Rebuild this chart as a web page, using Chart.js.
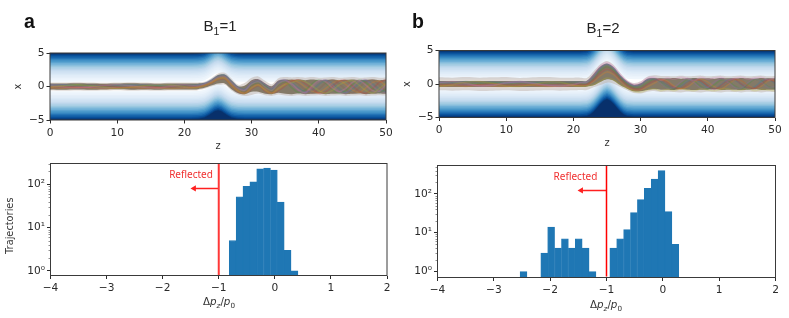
<!DOCTYPE html>
<html><head><meta charset="utf-8">
<script src="https://cdn.jsdelivr.net/npm/chart.js@4"></script>
<style>
html,body{margin:0;padding:0;background:#fff;width:789px;height:318px;overflow:hidden}
canvas{position:absolute;left:0;top:0;filter:blur(0.5px)}
.t{position:absolute;white-space:nowrap;color:#222;transform:translateX(-50%)}
.h{font-family:"Liberation Sans",sans-serif;font-size:15px}
.p{font-family:"Liberation Sans",sans-serif;font-weight:bold;font-size:19.5px;color:#111;transform:none}
.l{font-family:"DejaVu Sans",sans-serif;font-size:10.3px;color:#333}
sub{font-size:70%;line-height:0}
</style></head><body>
<div style="position:absolute;left:0;top:0;width:789px;height:318px">
<canvas id="c1" width="789" height="318"></canvas>
<canvas id="c2" width="789" height="318"></canvas>
<canvas id="c3" width="789" height="318"></canvas>
<canvas id="c4" width="789" height="318"></canvas>
</div>
<div class="t p" style="left:24px;top:10px">a</div>
<div class="t p" style="left:412px;top:10px">b</div>
<div class="t h" style="left:220px;top:17px">B<sub>1</sub>=1</div>
<div class="t h" style="left:603px;top:19px">B<sub>1</sub>=2</div>
<div class="t l" style="left:219px;top:295px">Δ<i>p<sub>z</sub></i>/<i>p</i><sub>0</sub></div>
<div class="t l" style="left:606px;top:298px">Δ<i>p<sub>z</sub></i>/<i>p</i><sub>0</sub></div>
<script>
// ---------- data ----------
const centerZ = [0,20,21,22,22.5,23,23.5,24,24.5,25,25.5,26,26.5,27,27.5,28,29,30,50];
const centerA = [0,0,0,0.03,0.1,0.22,0.48,0.82,1.15,1.3,1.15,0.82,0.48,0.22,0.1,0.03,0,0,0];
const centerB = [0,0,0,0.08,0.3,0.7,1.25,1.85,2.35,2.6,2.35,1.85,1.25,0.7,0.3,0.08,0,0,0];
const levelOffsets = [0.7,1.0,1.25,1.5,1.7,1.9,2.1,2.3,2.5,2.7,2.9,3.1,3.3,3.5,3.7,3.9,4.1,4.3,4.5,4.7,4.85];

const zGrid = [0,2,4,6,8,10,12,14,16,18,20,21,22,23,24,25,26,27,28,29,30,31,32,33,34,35,36,37,38,39,40,41,42,43,44,45,46,47,48,49,50];

const outerUpA = [.6,.6,.65,.6,.55,.6,.65,.6,.55,.6,.6,.6,.6,.7,1.25,1.95,2.05,1.2,.25,.55,1.3,1.5,.85,.35,1.25,1.4,1.35,1.4,1.3,1.4,1.3,1.35,1.4,1.3,1.35,1.4,1.3,1.35,1.4,1.3,1.35];
const outerLoA = [-.6,-.65,-.6,-.65,-.6,-.55,-.65,-.6,-.65,-.6,-.6,-.6,-.55,-.35,0,.25,.25,-.6,-1.2,-1.4,-1.25,-1.05,-1.3,-1.4,-1.2,-1.35,-1.4,-1.3,-1.4,-1.35,-1.3,-1.4,-1.35,-1.3,-1.4,-1.35,-1.3,-1.4,-1.35,-1.3,-1.35];
const innerUpA = [.45,.45,.48,.45,.42,.45,.48,.45,.42,.45,.45,.45,.45,.55,1.0,1.7,1.8,.95,.05,.15,.95,1.1,.5,.05,.9,1.05,1,1.05,.95,1.05,.95,1,1.05,.95,1,1.05,.95,1,1.05,.95,1];
const innerLoA = [-.45,-.48,-.45,-.48,-.45,-.42,-.48,-.45,-.48,-.45,-.45,-.45,-.4,-.2,.15,.45,.45,-.4,-1,-1.15,-.8,-.8,-1.1,-1.15,-.95,-1.1,-1.15,-1.05,-1.15,-1.1,-1.05,-1.15,-1.1,-1.05,-1.15,-1.1,-1.05,-1.15,-1.1,-1.05,-1.1];
const trajA = [
 [.2,.25,.15,.2,.1,.2,.25,.15,.2,.15,.2,.2,.25,.5,1,1.6,1.7,.8,-.1,-.4,.5,.8,.2,-.4,.6,.9,.5,-.2,-.8,-.5,.3,.9,.5,-.3,-.9,-.4,.4,.9,.4,-.4,-.8],
 [-.2,-.25,-.1,-.2,-.3,-.2,-.15,-.25,-.2,-.3,-.2,-.2,-.15,.1,.6,1.2,1.3,.3,-.6,-.9,-.1,.3,-.4,-.9,-.2,.4,.9,.6,-.1,-.7,-.9,-.3,.5,.9,.3,-.5,-.9,-.2,.6,.8,.1],
 [.05,.1,.2,.1,0,.05,.1,.2,.1,0,.05,.05,.1,.3,.8,1.4,1.5,.55,-.4,-.7,.2,.6,0,-.7,.3,.7,-.2,-.9,-.5,.4,1,.5,-.4,-1,-.6,.3,1,.6,-.3,-.9,-.4],
 [-.05,0,-.15,-.1,.05,-.1,-.05,.05,-.1,-.05,0,-.05,0,.2,.5,1,1.1,.1,-.8,-1,-.4,.1,-.7,-1,-.6,.1,.8,1,.4,-.3,-1,-.8,0,.8,.9,.1,-.7,-1,-.3,.6,1],
 [.3,.2,.05,-.1,-.2,-.05,.1,.3,.25,.1,-.1,0,.2,.45,.9,1.5,1.6,.7,-.2,-.5,.7,1,.35,-.2,.8,1,.2,-.6,-1,-.2,.7,1,.2,-.7,-1,-.1,.8,1,.1,-.8,-.9],
 [-.3,-.15,.05,.25,.2,0,-.25,-.3,-.1,.1,.2,.1,-.05,.15,.7,1.3,1.4,.4,-.5,-.8,0,.4,-.2,-.8,.1,.6,1,.3,-.5,-1,-.4,.5,1,.4,-.4,-1,-.2,.7,1,.2,-.7],
 [.1,-.05,-.2,-.05,.15,.25,.1,-.1,-.2,.05,.25,.15,.05,.35,.75,1.35,1.45,.5,-.35,-.6,.35,.7,-.1,-.6,.45,.85,.4,-.5,-.9,.1,.9,.7,-.2,-.8,-.3,.6,.9,.2,-.6,-.7,.3],
 [-.1,.1,.25,.1,-.1,-.25,-.1,.1,.25,.2,-.05,-.15,-.1,.15,.55,1.1,1.2,.2,-.7,-1.05,-.25,.2,-.55,-1.05,-.4,.25,.6,.9,.7,.1,-.6,-1,-.6,.2,.7,.9,.2,-.6,-1,-.3,.5]
];

const outerUpB = [1,.95,1.05,.95,1,1.05,.9,1,1.05,.95,.95,.95,.9,1.9,2.95,3.45,2.85,1.6,.6,.15,.4,1.1,1.3,1.2,1.2,1.15,1.25,1.15,1.2,1.25,1.15,1.2,1.25,1.15,1.2,1.25,1.15,1.2,1.25,1.15,1.2];
const outerLoB = [-.95,-1,-.95,-1.05,-1,-.95,-1.05,-1,-.95,-1,-.95,-.9,-.9,-.5,-.15,.2,.05,-.45,-.95,-1.35,-1.4,-1.15,-1.05,-1.2,-1.15,-1.2,-1.25,-1.15,-1.2,-1.25,-1.15,-1.2,-1.25,-1.15,-1.2,-1.25,-1.15,-1.2,-1.25,-1.15,-1.2];
const innerUpB = [.45,.45,.45,.45,.45,.45,.45,.45,.45,.45,.45,.45,.5,1.5,2.6,3.05,2.5,1.3,.4,-.1,.1,.8,.9,.85,.85,.9,.8,.85,.9,.85,.85,.8,.9,.85,.85,.9,.85,.8,.9,.85,.85];
const innerLoB = [-.45,-.45,-.45,-.45,-.45,-.45,-.45,-.45,-.45,-.45,-.45,-.45,-.4,-.2,.3,.7,.5,-.2,-.7,-1.1,-1.1,-.9,-.8,-.85,-.85,-.9,-.8,-.85,-.9,-.85,-.85,-.8,-.9,-.85,-.85,-.9,-.85,-.8,-.9,-.85,-.85];
const trajB = [
 [.3,.2,.35,.25,.3,.2,.35,.25,.3,.25,.3,.3,.35,1.2,2.3,2.9,2.3,1.1,.2,-.3,-.1,.6,.7,.4,-.2,-.6,-.3,.4,.7,.2,-.5,-.7,-.1,.6,.6,-.1,-.7,-.4,.4,.7,.1],
 [-.3,-.25,-.35,-.2,-.3,-.35,-.25,-.2,-.35,-.3,-.25,-.25,-.2,.4,1.2,1.8,1.4,.4,-.5,-.9,-.9,-.4,.1,.6,.4,-.3,-.7,-.4,.3,.7,.3,-.4,-.7,-.1,.6,.5,-.2,-.7,-.3,.5,.6],
 [.1,.15,.05,.1,.2,.05,.1,.15,.05,.1,.1,.1,.15,.9,2,2.6,2,.9,0,-.5,-.4,.2,.7,.2,-.5,-.7,0,.7,.4,-.4,-.7,-.1,.6,.5,-.3,-.7,0,.7,.4,-.4,-.6],
 [-.1,-.05,-.15,-.1,0,-.15,-.05,-.1,-.15,0,-.1,-.1,-.05,.6,1.6,2.2,1.7,.7,-.2,-.7,-.7,-.1,.4,.7,.2,-.5,-.7,-.1,.6,.5,-.3,-.8,-.2,.5,.7,0,-.6,-.6,.1,.7,.3],
 [.2,.05,-.1,-.25,-.1,.1,.25,.1,-.1,-.2,0,.15,.2,1,2.5,3,2.4,1.2,.3,-.2,0,.7,.8,.1,-.6,-.5,.3,.8,.2,-.6,-.5,.3,.8,.3,-.5,-.6,.2,.8,.3,-.5,-.4],
 [-.2,0,.2,.3,.1,-.15,-.3,-.1,.2,.3,.1,-.05,-.1,.7,1.9,2.5,1.9,.8,-.1,-.6,-.6,0,.6,.5,-.1,-.7,-.5,.2,.7,.4,-.2,-.7,-.5,.1,.7,.5,-.3,-.7,-.1,.6,.7],
 [.2,.35,.1,-.3,-.2,.2,.35,.1,-.2,-.35,-.1,.2,.3,1.4,2.7,3.2,2.6,1.4,.4,-.05,.2,.9,1,.6,.9,.7,1,.8,.5,1,.7,.9,1,.6,.8,1,.7,.9,1,.6,.9],
 [-.3,-.1,.3,.35,.1,-.3,-.35,-.1,.3,.25,-.2,-.3,-.3,-.1,.4,.9,.6,-.1,-.6,-1.1,-1.2,-.9,-.7,-1,-.8,-1,-.7,-.9,-1,-.7,-.9,-1,-.8,-.7,-1,-.9,-.7,-1,-.8,-.9,-1]
];

const binsA = [-0.752,-0.629,-0.507,-0.384,-0.262,-0.139,-0.017,0.106,0.228,0.351];
const countsA = [5,52,90,115,230,240,215,39,3,1];
const binsB = [-2.473,-2.105,-1.983,-1.860,-1.738,-1.615,-1.493,-1.370,-1.248,-0.880,-0.758,-0.635,-0.513,-0.390,-0.268,-0.145,-0.023,0.100,0.222];
const countsB = [1,3,14,4,7,4,7,4,1,4,7,12,33,72,140,240,400,35,5];
const logMajor = [1,10,100];
const logMinor = [2,3,4,5,6,7,8,9,20,30,40,50,60,70,80,90,200,300,400,500];
const histXTicks = [-4,-3,-2,-1,0,1,2];
const reflectedX = -1;
const arrowTipA = -1.44, arrowYA = 81, labelXA = -1.105, labelYA = 164;
const arrowTipB = -1.45, arrowYB = 123, labelXB = -1.163, labelYB = 272;

// ---------- styling ----------
const tab10 = ['#1f77b4','#ff7f0e','#2ca02c','#d62728','#9467bd','#8c564b','#e377c2','#bcbd22','#17becf','#7f7f7f'];
const blues = [[247,251,255],[222,235,247],[198,219,239],[158,202,225],[107,174,214],[66,146,198],[33,113,181],[8,81,156],[8,48,107]];
function blueAt(v){v=Math.min(1,v)*8;const i=Math.min(7,Math.floor(v)),f=v-i;
  const c=blues[i].map((b,k)=>Math.round(b+(blues[i+1][k]-b)*f));return `rgb(${c})`;}
const TICK='#2b2b2b';
const tickFont={family:'"DejaVu Sans",sans-serif',size:10.6};
const titleFont={family:'"DejaVu Sans",sans-serif',size:9.8};
const minus=v=>String(v).replace('-','\u2212');

const framePlugin={id:'frame',afterDatasetsDraw(ch){const a=ch.chartArea,c=ch.ctx;c.save();
  c.strokeStyle='#3a3a3a';c.lineWidth=1;c.strokeRect(a.left,a.top,a.right-a.left,a.bottom-a.top);c.restore();}};
const minorPlugin={id:'minor',afterDatasetsDraw(ch){const s=ch.scales.y,c=ch.ctx,a=ch.chartArea;c.save();
  c.strokeStyle='#444';c.lineWidth=.6;
  logMinor.forEach(v=>{if(v<s.min||v>s.max)return;const y=Math.round(s.getPixelForValue(v))+.5;
    c.beginPath();c.moveTo(a.left-2,y);c.lineTo(a.left,y);c.stroke();});c.restore();}};

function axes(r,xo,yo,yTitle){return {
  x:Object.assign({type:'linear',offset:false,
    grid:{display:true,offset:false,drawOnChartArea:false,drawTicks:true,tickLength:3.5,tickColor:TICK,tickWidth:1},
    border:{display:false},
    afterFit:s=>{s.height=r.axisH;}},xo),
  y:Object.assign({grid:{display:true,drawOnChartArea:false,drawTicks:true,tickLength:3.5,tickColor:TICK,tickWidth:1},
    border:{display:false},
    title:yTitle?{display:true,text:yTitle,font:titleFont,color:'#333',padding:{top:r.yTitlePad,bottom:0}}:{display:false},
    afterFit:s=>{s.width=r.l;}},yo)};}
function layout(r){return {padding:{left:0,top:r.t,right:789-r.r,bottom:318-r.b-r.axisH}};}

function topPanel(id,r,center,oU,oL,iU,iL,trajs){
  const ds=[];let ord=1000;
  const line=(arr,xs)=>arr.map((y,i)=>({x:xs[i],y}));
  levelOffsets.forEach((d,i)=>{
    const col=blueAt(Math.pow((levelOffsets[i+1]||5)/5,2));
    ds.push({type:'line',data:center.map((c,k)=>({x:centerZ[k],y:c+d})),fill:'end',backgroundColor:col,borderWidth:0,pointRadius:0,tension:0,order:ord--});
    ds.push({type:'line',data:center.map((c,k)=>({x:centerZ[k],y:c-d})),fill:'start',backgroundColor:col,borderWidth:0,pointRadius:0,tension:0,order:ord--});
  });
  const pair=(u,l,col)=>{const n=ds.length;
    ds.push({type:'line',data:line(u,zGrid),fill:{target:n+1},backgroundColor:col,borderWidth:0,pointRadius:0,tension:0.3,order:ord--});
    ds.push({type:'line',data:line(l,zGrid),fill:false,borderWidth:0,pointRadius:0,tension:0.3,order:ord--});};
  pair(oU,oL,'rgba(190,176,168,0.5)');
  pair(iU,iL,'rgb(132,122,104)');
  trajs.forEach((t,i)=>ds.push({type:'line',data:line(t.slice(0,zGrid.length),zGrid),borderColor:tab10[i%10]+'38',borderWidth:1.6,pointRadius:0,tension:0.35,fill:false,order:ord--}));
  new Chart(document.getElementById(id),{type:'line',data:{datasets:ds},plugins:[framePlugin],options:{
    responsive:false,animation:false,events:[],layout:layout(r),
    plugins:{legend:{display:false},tooltip:{enabled:false},title:{display:false}},
    scales:axes(r,
      {min:0,max:50,ticks:{stepSize:10,color:TICK,font:tickFont,padding:3,maxRotation:0,autoSkip:false},
       title:{display:true,text:'z',font:titleFont,color:'#333',padding:0}},
      {type:'linear',min:-5,max:5,ticks:{stepSize:5,color:TICK,font:tickFont,padding:2,callback:minus}},'x')}});
}

function histPanel(id,r,bins,counts,yMin,yMax,tip,ay,lx,ly,lw,lc,yTitle){
  const labelPlugin={id:'lbl',afterDatasetsDraw(ch){const c=ch.ctx;c.save();c.fillStyle='#f03030';
    c.font='10px "Noto Sans",sans-serif';c.textAlign='right';c.textBaseline='middle';
    c.fillText('Reflected',ch.scales.x.getPixelForValue(lx),ch.scales.y.getPixelForValue(ly));c.restore();}};
  new Chart(document.getElementById(id),{type:'bar',data:{datasets:[
    {type:'line',data:[{x:reflectedX,y:yMin},{x:reflectedX,y:yMax}],borderColor:lc,borderWidth:lw,pointRadius:0,order:1},
    {type:'line',data:[{x:reflectedX,y:ay},{x:tip,y:ay}],borderColor:'#ff2020',borderWidth:1.6,
      pointStyle:'triangle',pointRotation:-90,pointRadius:[0,3.6],pointBackgroundColor:'#ff2020',pointBorderWidth:0,order:1},
    {type:'bar',data:bins.map((x,i)=>({x,y:counts[i]})),backgroundColor:'#1f77b4',borderColor:'#1f77b4',borderWidth:0.8,borderSkipped:false,barPercentage:1,categoryPercentage:1,order:2}
  ]},plugins:[framePlugin,minorPlugin,labelPlugin],options:{
    responsive:false,animation:false,events:[],layout:layout(r),
    plugins:{legend:{display:false},tooltip:{enabled:false},title:{display:false}},
    scales:axes(r,
      {min:-4,max:2,afterBuildTicks:s=>{s.ticks=histXTicks.map(value=>({value}));},
       ticks:{color:TICK,font:tickFont,padding:3,maxRotation:0,autoSkip:false,callback:minus},title:{display:false}},
      {type:'logarithmic',min:yMin,max:yMax,afterBuildTicks:s=>{s.ticks=logMajor.map(value=>({value,major:true}));},
       ticks:{color:TICK,font:tickFont,padding:2,autoSkip:false,
         callback:v=>({1:'10\u2070',10:'10\u00b9',100:'10\u00b2'})[v]||''}},yTitle)}});
}

topPanel('c1',{l:50,t:53,r:386,b:120,axisH:32,yTitlePad:13},centerA,outerUpA,outerLoA,innerUpA,innerLoA,trajA);
topPanel('c2',{l:439,t:50.5,r:775,b:117.5,axisH:32,yTitlePad:402},centerB,outerUpB,outerLoB,innerUpB,innerLoB,trajB);
histPanel('c3',{l:50.5,t:163.5,r:387,b:275.5,axisH:30,yTitlePad:5},binsA,countsA,0.78,306,arrowTipA,arrowYA,labelXA,labelYA,2,'#ff3838','Trajectories    ');
histPanel('c4',{l:437.5,t:165.5,r:775.5,b:277.5,axisH:30},binsB,countsB,0.745,541,arrowTipB,arrowYB,labelXB,labelYB,1.5,'#ff0000',null);
</script>
</body></html>
